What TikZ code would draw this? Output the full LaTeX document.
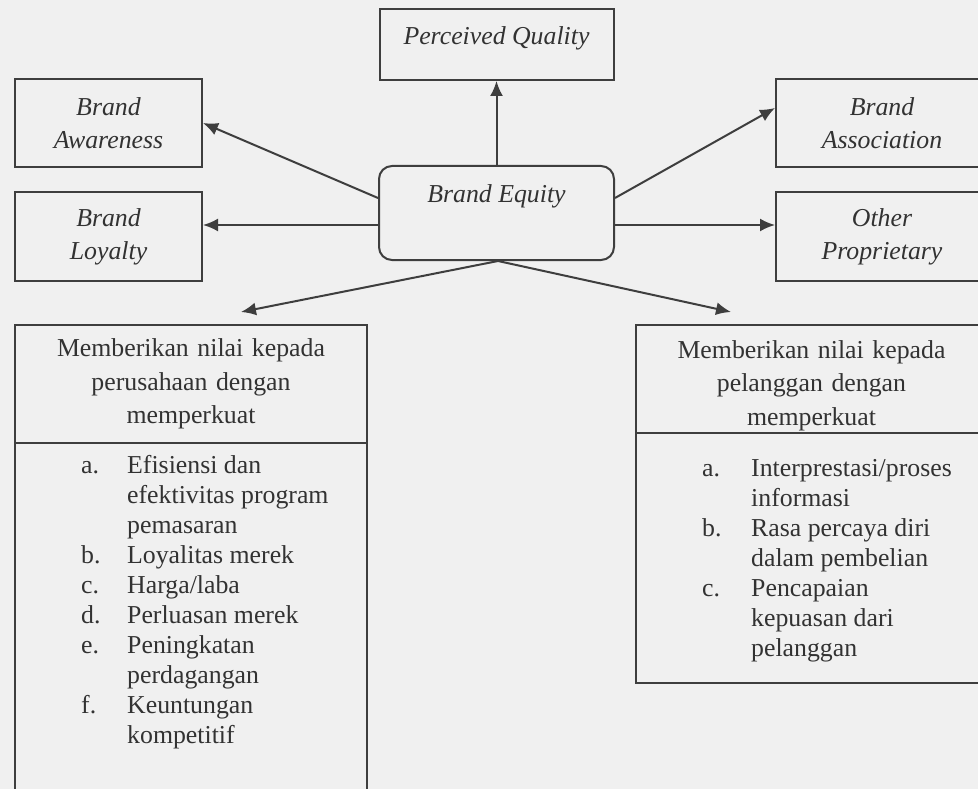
\documentclass[tikz,border=0pt]{standalone}
\usepackage{fontspec}
\setmainfont{Liberation Serif}
\usetikzlibrary{positioning,arrows.meta}
\definecolor{linegray}{RGB}{62,62,62}
\definecolor{textgray}{RGB}{50,50,50}
\definecolor{paper}{RGB}{240,240,240}
\newcommand{\labelfont}{\fontsize{25.8}{33}\selectfont\itshape}
\newcommand{\headfont}{\fontsize{25.8}{33.5}\selectfont}
\newcommand{\listfont}{\fontsize{25.8}{30}\selectfont}
\tikzset{
  frame/.style={draw=linegray, line width=2pt, text=textgray},
  side box/.style={frame, font=\labelfont, align=center, minimum width=187pt, minimum height=88pt},
  far box/.style={side box, minimum width=212pt},
  head box/.style={frame, font=\headfont, align=center, text width=340pt},
  body box/.style={frame, minimum width=#1},
  item list/.style={text=textgray, font=\listfont, inner sep=0pt, anchor=north west},
  arr/.style={-{Latex[length=15pt,width=13pt]}, draw=linegray, line width=2pt},
}

\begin{document}
\begin{tikzpicture}[x=1pt, y=-1pt]
        \useasboundingbox (0,0) rectangle (978,789);
        \clip (0,0) rectangle (978,789);
        \fill[paper] (0,0) rectangle (978,789);
        % Nodes
        \node[frame, font=\labelfont, rounded corners=13pt, minimum width=235pt,
              inner ysep=8pt, text height=29pt, text depth=49pt] (eq) at (496.5,213) {Brand Equity};
        \node[frame, font=\labelfont, minimum width=234pt,
              inner ysep=8pt, text height=28pt, text depth=27pt] [above = 84pt of eq] (pq) {Perceived Quality};
        \node[side box] (aw) at (108.5,123) {Brand\\Awareness};
        \node[side box, minimum height=89pt] (ly) at (108.5,236.5) {Brand\\Loyalty};
        \node[far box] (as) at (882,123) {Brand\\Association};
        \node[far box, minimum height=89pt] (op) at (882,236.5) {Other\\Proprietary};
        \node[head box, minimum width=352pt, minimum height=118pt] (lhead) at (191,384)
              {Memberikan nilai kepada\\perusahaan dengan\\memperkuat};
        \node[body box=352pt, minimum height=370pt] [below = -2pt of lhead] (lbody) {};
        \node[head box, minimum width=351pt, inner ysep=0pt,
              text height=33pt, text depth=75pt] (rhead) at (811.5,379)
              {Memberikan nilai kepada\\pelanggan dengan\\memperkuat};
        \node[body box=351pt, minimum height=250pt] [below = -2pt of rhead] (rbody) {};
        \node[item list] (llist) at ([xshift=67pt,yshift=-10pt]lbody.north west) {%
          \begin{tabular}{@{}p{46pt}@{}l@{}}
            a. & Efisiensi dan\\
               & efektivitas program\\
               & pemasaran\\
            b. & Loyalitas merek\\
            c. & Harga/laba\\
            d. & Perluasan merek\\
            e. & Peningkatan\\
               & perdagangan\\
            f. & Keuntungan\\
               & kompetitif
          \end{tabular}};
        \node[item list] (rlist) at ([xshift=67pt,yshift=-23pt]rbody.north west) {%
          \begin{tabular}{@{}p{49pt}@{}l@{}}
            a. & Interprestasi/proses\\
               & informasi\\
            b. & Rasa percaya diri\\
               & dalam pembelian\\
            c. & Pencapaian\\
               & kepuasan dari\\
               & pelanggan
          \end{tabular}};
        % Paths
        \draw[arr] (eq) -- (pq);
        \draw[arr] ([yshift=15pt]eq.west) -- (aw.east);
        \draw[arr] ([yshift=-12pt]eq.west) -- ([yshift=-12pt]eq.west -| ly.east);
        \draw[arr] ([yshift=15pt]eq.east) -- ([yshift=15pt]as.west);
        \draw[arr] ([yshift=-12pt]eq.east) -- ([yshift=-12pt]eq.east -| op.west);
        \draw[arr] ([xshift=1.5pt]eq.south) -- ([xshift=50pt,yshift=12pt]lhead.north);
        \draw[arr] ([xshift=1.5pt]eq.south) -- ([xshift=-80.5pt,yshift=12pt]rhead.north);
\end{tikzpicture}
\end{document}
